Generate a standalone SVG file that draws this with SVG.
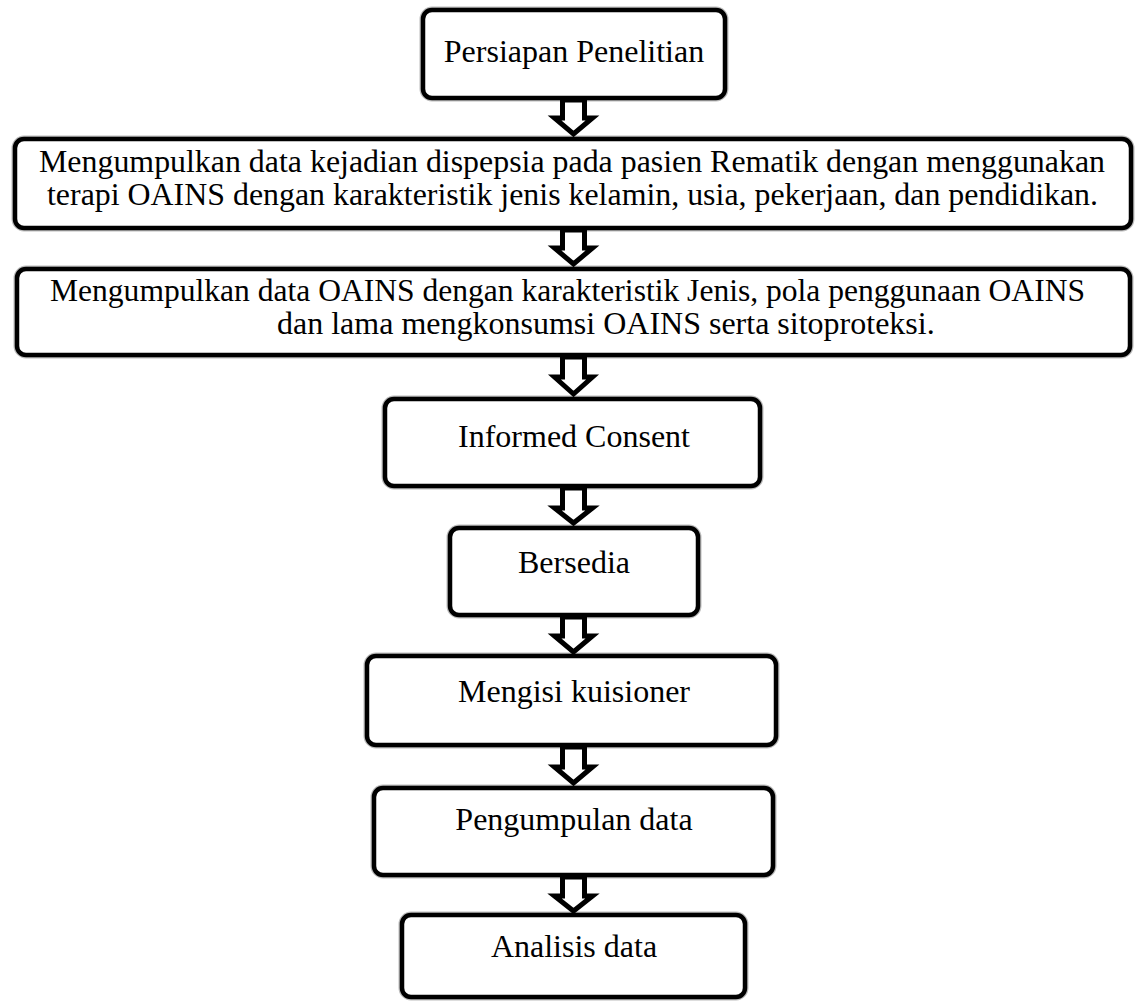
<svg xmlns="http://www.w3.org/2000/svg" width="1142" height="1001" viewBox="0 0 1142 1001">
<style>
.box{fill:#fff;stroke:#000;stroke-width:4.5}
.sh{fill:none;stroke:#bbb;stroke-width:7}
.t{font-family:"Liberation Serif","Times New Roman",serif;font-size:32px;fill:#000}
.c{text-anchor:middle}
.arr{fill:#fff;stroke:#000;stroke-width:5;stroke-linejoin:miter}
</style>
<rect width="1142" height="1001" fill="#fff"/>
<g id="n1"><rect class="sh" x="423" y="10" width="302" height="88" rx="9"/><rect class="box" x="423" y="10" width="302" height="88" rx="9"/><text class="t c" x="574" y="62">Persiapan Penelitian</text></g>
<g id="n2"><rect class="sh" x="15" y="139" width="1116" height="89" rx="9"/><rect class="box" x="15" y="139" width="1116" height="89" rx="9"/>
<text class="t" x="39" y="172" textLength="1066" lengthAdjust="spacingAndGlyphs">Mengumpulkan data kejadian dispepsia pada pasien Rematik dengan menggunakan</text>
<text class="t" x="47" y="205" textLength="1051" lengthAdjust="spacingAndGlyphs">terapi OAINS dengan karakteristik jenis kelamin, usia, pekerjaan, dan pendidikan.</text></g>
<g id="n3"><rect class="sh" x="17" y="269" width="1113" height="86" rx="9"/><rect class="box" x="17" y="269" width="1113" height="86" rx="9"/>
<text class="t" x="50" y="301" textLength="1035" lengthAdjust="spacingAndGlyphs">Mengumpulkan data OAINS dengan karakteristik Jenis, pola penggunaan OAINS</text>
<text class="t" x="277" y="334">dan lama mengkonsumsi OAINS serta sitoproteksi.</text></g>
<g id="n4"><rect class="sh" x="385" y="399" width="375" height="87" rx="9"/><rect class="box" x="385" y="399" width="375" height="87" rx="9"/><text class="t c" x="574" y="447">Informed Consent</text></g>
<g id="n5"><rect class="sh" x="450" y="528" width="248" height="87" rx="9"/><rect class="box" x="450" y="528" width="248" height="87" rx="9"/><text class="t c" x="574" y="573">Bersedia</text></g>
<g id="n6"><rect class="sh" x="367" y="656" width="409" height="89" rx="9"/><rect class="box" x="367" y="656" width="409" height="89" rx="9"/><text class="t c" x="574" y="702">Mengisi kuisioner</text></g>
<g id="n7"><rect class="sh" x="374" y="788" width="399" height="87" rx="9"/><rect class="box" x="374" y="788" width="399" height="87" rx="9"/><text class="t c" x="574" y="830">Pengumpulan data</text></g>
<g id="n8"><rect class="sh" x="402" y="915" width="343" height="82" rx="9"/><rect class="box" x="402" y="915" width="343" height="82" rx="9"/><text class="t c" x="574" y="957">Analisis data</text></g>
<g id="connectors">
<path class="arr" d="M562.5 100 H584.5 V118 H592.5 L573.5 134 L554.5 118 H562.5 Z"/>
<path class="arr" d="M562.5 230 H584.5 V248 H592.5 L573.5 264 L554.5 248 H562.5 Z"/>
<path class="arr" d="M562.5 357 H584.5 V377 H592.5 L573.5 394 L554.5 377 H562.5 Z"/>
<path class="arr" d="M562.5 488 H584.5 V508 H592.5 L573.5 523 L554.5 508 H562.5 Z"/>
<path class="arr" d="M562.5 617 H584.5 V636 H592.5 L573.5 652 L554.5 636 H562.5 Z"/>
<path class="arr" d="M562.5 747 H584.5 V767 H592.5 L573.5 783 L554.5 767 H562.5 Z"/>
<path class="arr" d="M562.5 877 H584.5 V896 H592.5 L573.5 911 L554.5 896 H562.5 Z"/>
</g>
</svg>
